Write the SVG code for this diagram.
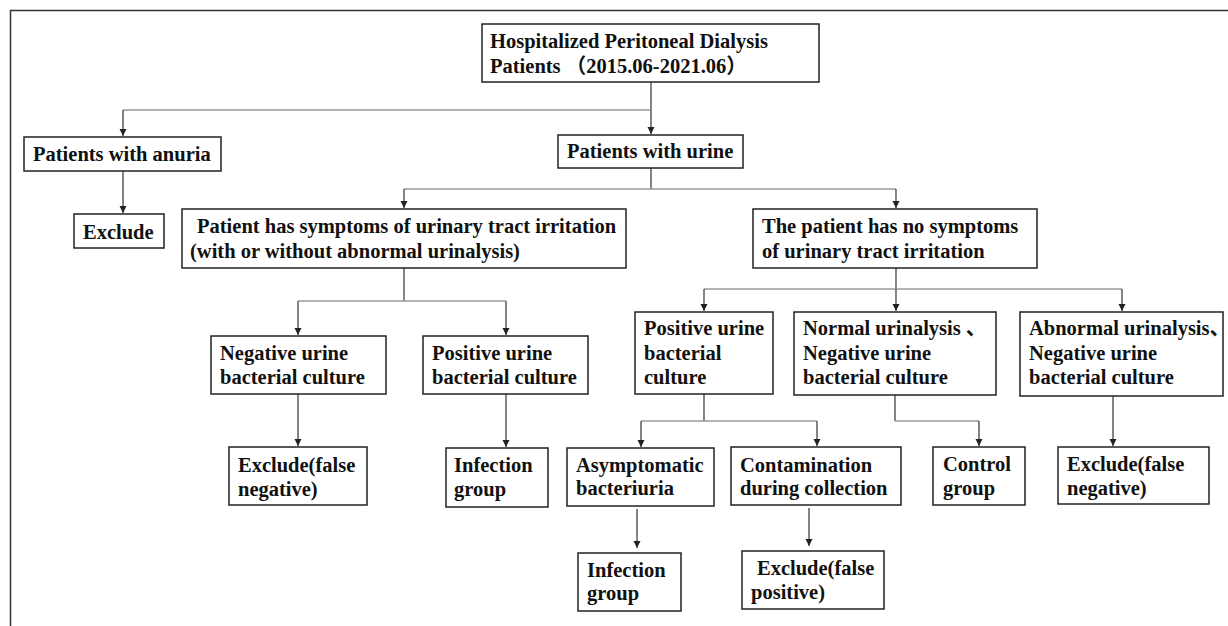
<svg xmlns="http://www.w3.org/2000/svg" width="1228" height="626" viewBox="0 0 1228 626">
<style>
.box{fill:#fff;stroke:#222;stroke-width:1.5}
.t{font-family:"Liberation Serif","Noto Sans CJK SC",serif;font-weight:bold;font-size:20.5px;fill:#111}
.v{stroke:#333;stroke-width:1.2;fill:none}
.h{stroke:#999;stroke-width:1.5;fill:none}
.a{stroke:#333;stroke-width:1.2;fill:none;marker-end:url(#arr)}
</style>
<defs>
<marker id="arr" markerWidth="8" markerHeight="8" refX="7" refY="4" orient="auto" markerUnits="userSpaceOnUse">
<path d="M0,0.5 L7,4 L0,7.5 Z" fill="#222"/>
</marker>
</defs>
<rect width="1228" height="626" fill="#fff"/>
<path d="M10.5,626 V10.5 H1228" fill="none" stroke="#333" stroke-width="1.5"/>

<g id="connectors">
<path class="v" d="M651,82 V110"/>
<path class="h" d="M123,110 H651"/>
<path class="a" d="M123,110 V136"/>
<path class="a" d="M651,110 V134"/>
<path class="a" d="M123,171 V213"/>
<path class="v" d="M651,168 V189"/>
<path class="h" d="M404,189 H896"/>
<path class="a" d="M404,189 V208"/>
<path class="a" d="M896,189 V208"/>
<path class="v" d="M404,268 V301"/>
<path class="h" d="M298,301 H506"/>
<path class="a" d="M298,301 V335"/>
<path class="a" d="M506,301 V335"/>
<path class="a" d="M298,394 V446"/>
<path class="a" d="M506,394 V447"/>
<path class="v" d="M896,268 V289"/>
<path class="h" d="M704,289 H1122"/>
<path class="a" d="M704,289 V311"/>
<path class="a" d="M896,289 V311"/>
<path class="a" d="M1122,289 V311"/>
<path class="v" d="M704,394 V421"/>
<path class="h" d="M641,421 H817"/>
<path class="a" d="M641,421 V447"/>
<path class="a" d="M817,421 V446"/>
<path class="v" d="M895,395 V421"/>
<path class="h" d="M895,421 H979"/>
<path class="a" d="M979,421 V446"/>
<path class="a" d="M1113,396 V446"/>
<path class="a" d="M637,509 V548"/>
<path class="a" d="M809,508 V546"/>
</g>

<g id="n-top"><rect class="box" x="482" y="24" width="337" height="58"/>
<text class="t" x="490" y="48">Hospitalized Peritoneal Dialysis</text>
<text class="t" x="490" y="73">Patients （2015.06-2021.06）</text></g>

<g id="n-anuria"><rect class="box" x="24" y="137" width="197" height="34"/>
<text class="t" x="33" y="161">Patients with anuria</text></g>

<g id="n-exclude"><rect class="box" x="74" y="214" width="90" height="34"/>
<text class="t" x="83" y="239">Exclude</text></g>

<g id="n-urine"><rect class="box" x="558" y="135" width="185" height="33"/>
<text class="t" x="567" y="158">Patients with urine</text></g>

<g id="n-sym"><rect class="box" x="182" y="209" width="444" height="59"/>
<text class="t" x="197" y="233">Patient has symptoms of urinary tract irritation</text>
<text class="t" x="190" y="258">(with or without abnormal urinalysis)</text></g>

<g id="n-nosym"><rect class="box" x="753" y="209" width="284" height="59"/>
<text class="t" x="762" y="233">The patient has no symptoms</text>
<text class="t" x="762" y="258">of urinary tract irritation</text></g>

<g id="n-neg1"><rect class="box" x="211" y="336" width="175" height="58"/>
<text class="t" x="220" y="360">Negative urine</text>
<text class="t" x="220" y="384">bacterial culture</text></g>

<g id="n-pos1"><rect class="box" x="423" y="336" width="165" height="58"/>
<text class="t" x="432" y="360">Positive urine</text>
<text class="t" x="432" y="384">bacterial culture</text></g>

<g id="n-excl-fn1"><rect class="box" x="229" y="447" width="138" height="58"/>
<text class="t" x="238" y="472">Exclude(false</text>
<text class="t" x="238" y="496">negative)</text></g>

<g id="n-inf1"><rect class="box" x="446" y="448" width="102" height="59"/>
<text class="t" x="454" y="472">Infection</text>
<text class="t" x="454" y="496">group</text></g>

<g id="n-pos2"><rect class="box" x="635" y="312" width="138" height="82"/>
<text class="t" x="644" y="335">Positive urine</text>
<text class="t" x="644" y="360">bacterial</text>
<text class="t" x="644" y="384">culture</text></g>

<g id="n-normal"><rect class="box" x="794" y="312" width="202" height="83"/>
<text class="t" x="803" y="335">Normal urinalysis 、</text>
<text class="t" x="803" y="360">Negative urine</text>
<text class="t" x="803" y="384">bacterial culture</text></g>

<g id="n-abnormal"><rect class="box" x="1020" y="312" width="203" height="84"/>
<text class="t" x="1029" y="335">Abnormal urinalysis、</text>
<text class="t" x="1029" y="360">Negative urine</text>
<text class="t" x="1029" y="384">bacterial culture</text></g>

<g id="n-asym"><rect class="box" x="567" y="448" width="147" height="58"/>
<text class="t" x="576" y="472">Asymptomatic</text>
<text class="t" x="576" y="495">bacteriuria</text></g>

<g id="n-contam"><rect class="box" x="731" y="447" width="170" height="58"/>
<text class="t" x="740" y="472">Contamination</text>
<text class="t" x="740" y="495">during collection</text></g>

<g id="n-control"><rect class="box" x="933" y="447" width="92" height="58"/>
<text class="t" x="943" y="471">Control</text>
<text class="t" x="943" y="495">group</text></g>

<g id="n-excl-fn2"><rect class="box" x="1058" y="447" width="151" height="57"/>
<text class="t" x="1067" y="471">Exclude(false</text>
<text class="t" x="1067" y="495">negative)</text></g>

<g id="n-inf2"><rect class="box" x="578" y="553" width="103" height="58"/>
<text class="t" x="587" y="577">Infection</text>
<text class="t" x="587" y="600">group</text></g>

<g id="n-excl-fp"><rect class="box" x="742" y="551" width="142" height="58"/>
<text class="t" x="757" y="575">Exclude(false</text>
<text class="t" x="751" y="599">positive)</text></g>
</svg>
